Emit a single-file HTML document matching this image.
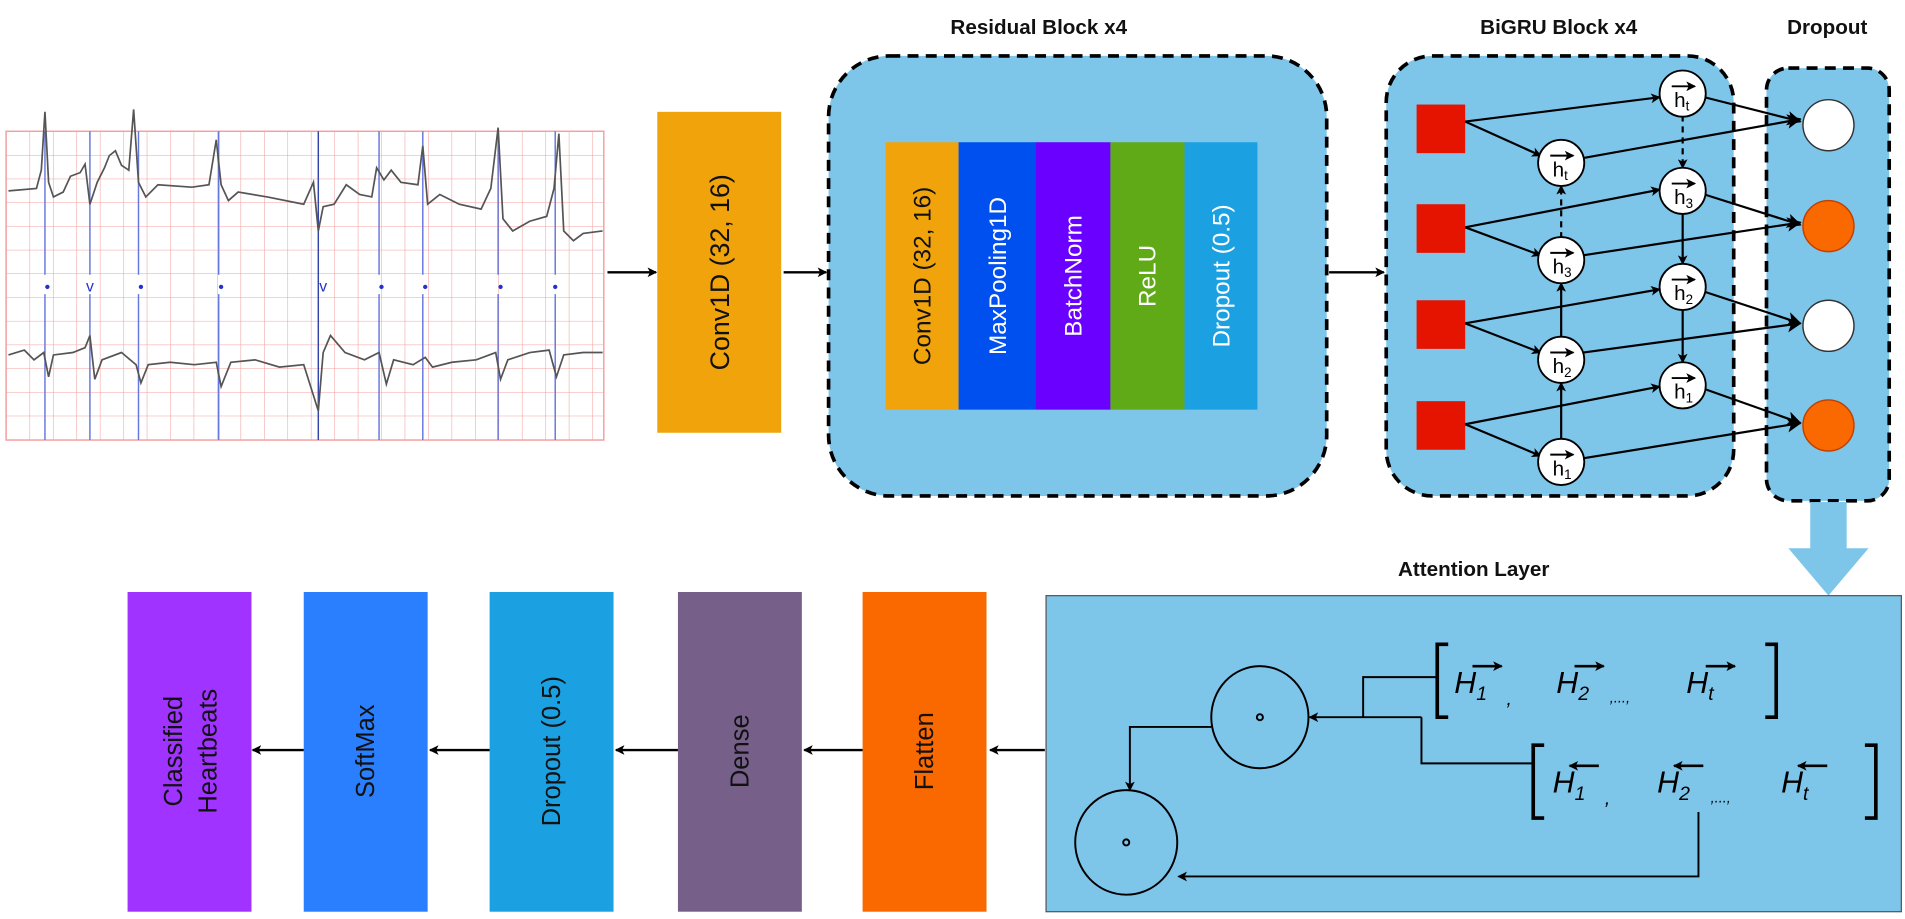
<!DOCTYPE html>
<html><head><meta charset="utf-8"><style>
html,body{margin:0;padding:0;background:#fff;}
svg{display:block;}
text{font-family:"Liberation Sans",sans-serif;}
</style></head><body>
<svg width="1905" height="919" viewBox="0 0 1568 756" preserveAspectRatio="none" xmlns="http://www.w3.org/2000/svg">
<defs>
<marker id="a" markerWidth="8" markerHeight="8" refX="7" refY="4" orient="auto" markerUnits="userSpaceOnUse"><path d="M0,0 L8,4 L0,8 L2,4 z" fill="#000"/></marker>
<marker id="b" markerWidth="12" markerHeight="12" refX="11" refY="6" orient="auto" markerUnits="userSpaceOnUse"><path d="M0,0 L12,6 L0,12 L3,6 z" fill="#000"/></marker>
<pattern id="g" width="19.3" height="19.5" patternUnits="userSpaceOnUse" x="5" y="108"><path d="M0,0 H19.3 M0,0 V19.5" stroke="#f2a0a0" stroke-width="0.9" fill="none"/></pattern>
</defs>
<!-- ECG -->
<rect x="5" y="108" width="492" height="254" fill="url(#g)" stroke="#f2a0a0" stroke-width="1.2"/>
<g stroke="#6677dd" stroke-width="1.2">
<line x1="37" y1="108" x2="37" y2="226"/><line x1="37" y1="242" x2="37" y2="362"/>
<line x1="74" y1="108" x2="74" y2="226"/><line x1="74" y1="242" x2="74" y2="362"/>
<line x1="114" y1="108" x2="114" y2="226"/><line x1="114" y1="242" x2="114" y2="362"/>
<line x1="180" y1="108" x2="180" y2="226"/><line x1="180" y1="242" x2="180" y2="362"/>
<line x1="262" y1="108" x2="262" y2="362" stroke="#3344aa"/>
<line x1="312" y1="108" x2="312" y2="226"/><line x1="312" y1="242" x2="312" y2="362"/>
<line x1="348" y1="108" x2="348" y2="226"/><line x1="348" y1="242" x2="348" y2="362"/>
<line x1="410" y1="108" x2="410" y2="226"/><line x1="410" y1="242" x2="410" y2="362"/>
<line x1="457" y1="108" x2="457" y2="226"/><line x1="457" y1="242" x2="457" y2="362"/>
</g>
<g fill="#2233cc" font-size="13" font-family="Liberation Serif,serif">
<circle cx="39" cy="236" r="1.8"/><text x="74" y="240" text-anchor="middle">v</text><circle cx="116" cy="236" r="1.8"/><circle cx="182" cy="236" r="1.8"/><text x="266" y="240" text-anchor="middle">v</text><circle cx="314" cy="236" r="1.8"/><circle cx="350" cy="236" r="1.8"/><circle cx="412" cy="236" r="1.8"/><circle cx="457" cy="236" r="1.8"/>
</g>
<g fill="none" stroke="#555" stroke-width="1.4">
<path d="M7,157 L30,155 L34,140 L37,92 L40,150 L44,162 L52,158 L58,145 L66,142 L70,135 L74,168 L80,150 L86,138 L90,128 L95,124 L100,136 L106,140 L110,90 L114,150 L120,162 L130,152 L158,154 L172,152 L178,115 L182,152 L188,165 L196,158 L220,162 L250,168 L258,150 L262,190 L266,170 L275,168 L285,152 L296,160 L306,162 L310,138 L316,148 L322,140 L330,150 L344,152 L348,120 L352,168 L362,160 L378,168 L396,172 L404,155 L410,105 L414,180 L422,190 L436,182 L450,178 L456,155 L460,110 L464,190 L472,198 L480,192 L496,190"/>
<path d="M7,292 L20,288 L28,296 L36,290 L40,310 L44,292 L60,290 L70,286 L74,276 L78,312 L84,296 L100,290 L112,300 L116,315 L122,300 L140,298 L160,300 L178,298 L182,318 L190,298 L210,296 L230,302 L250,300 L262,338 L266,290 L272,276 L284,290 L300,296 L312,290 L318,316 L324,296 L340,300 L350,294 L356,302 L372,298 L392,296 L408,290 L412,312 L418,296 L436,290 L452,288 L458,310 L464,292 L480,290 L496,290"/>
</g>
<!-- arrows top row -->
<g stroke="#000" stroke-width="2" fill="none">
<line x1="500" y1="224" x2="540" y2="224" marker-end="url(#a)"/>
<line x1="645" y1="224" x2="680" y2="224" marker-end="url(#a)"/>
<line x1="1094" y1="224" x2="1139" y2="224" marker-end="url(#a)"/>
</g>
<!-- Conv1D -->
<rect x="541" y="92" width="102" height="264" fill="#f0a30a"/>
<text transform="translate(600,224) rotate(-90)" text-anchor="middle" font-size="22" fill="#111">Conv1D (32, 16)</text>
<!-- Residual block -->
<text x="855" y="28" text-anchor="middle" font-size="17" font-weight="bold" fill="#111">Residual Block x4</text>
<rect x="682" y="46" width="410" height="362" rx="50" fill="#7ec5ea" stroke="#000" stroke-width="3" stroke-dasharray="9,6"/>
<rect x="729" y="117" width="60" height="220" fill="#f0a30a"/>
<rect x="789" y="117" width="63" height="220" fill="#0050ef"/>
<rect x="852" y="117" width="62" height="220" fill="#6a00ff"/>
<rect x="914" y="117" width="61" height="220" fill="#60a917"/>
<rect x="975" y="117" width="60" height="220" fill="#1ba1e2"/>
<g font-size="20" text-anchor="middle">
<text transform="translate(766,227) rotate(-90)" fill="#111">Conv1D (32, 16)</text>
<text transform="translate(828,227) rotate(-90)" fill="#fff">MaxPooling1D</text>
<text transform="translate(890,227) rotate(-90)" fill="#fff">BatchNorm</text>
<text transform="translate(951,227) rotate(-90)" fill="#fff">ReLU</text>
<text transform="translate(1012,227) rotate(-90)" fill="#fff">Dropout (0.5)</text>
</g>
<!-- BiGRU -->
<text x="1283" y="28" text-anchor="middle" font-size="17" font-weight="bold" fill="#111">BiGRU Block x4</text>
<text x="1504" y="28" text-anchor="middle" font-size="17" font-weight="bold" fill="#111">Dropout</text>
<rect x="1141" y="46" width="286" height="362" rx="38" fill="#7ec5ea" stroke="#000" stroke-width="3" stroke-dasharray="9,6"/>
<rect x="1454" y="56" width="101" height="356" rx="18" fill="#7ec5ea" stroke="#000" stroke-width="3" stroke-dasharray="9,6"/>
<g fill="#e51400">
<rect x="1166" y="86" width="40" height="40"/><rect x="1166" y="168" width="40" height="40"/><rect x="1166" y="247" width="40" height="40"/><rect x="1166" y="330" width="40" height="40"/>
</g>
<g stroke="#000" stroke-width="1.8" fill="none">
<line x1="1206" y1="100" x2="1366" y2="80" marker-end="url(#a)"/>
<line x1="1206" y1="100" x2="1268" y2="128" marker-end="url(#a)"/>
<line x1="1206" y1="187" x2="1366" y2="156" marker-end="url(#a)"/>
<line x1="1206" y1="187" x2="1268" y2="210" marker-end="url(#a)"/>
<line x1="1206" y1="266" x2="1366" y2="238" marker-end="url(#a)"/>
<line x1="1206" y1="266" x2="1268" y2="290" marker-end="url(#a)"/>
<line x1="1206" y1="349" x2="1366" y2="318" marker-end="url(#a)"/>
<line x1="1206" y1="349" x2="1268" y2="375" marker-end="url(#a)"/>
<line x1="1285" y1="362" x2="1285" y2="315" marker-end="url(#a)"/>
<line x1="1285" y1="278" x2="1285" y2="233" marker-end="url(#a)"/>
<line x1="1285" y1="196" x2="1285" y2="153" marker-end="url(#a)" stroke-dasharray="5,4"/>
<line x1="1385" y1="95" x2="1385" y2="138" marker-end="url(#a)" stroke-dasharray="5,4"/>
<line x1="1385" y1="175" x2="1385" y2="217" marker-end="url(#a)"/>
<line x1="1385" y1="254" x2="1385" y2="298" marker-end="url(#a)"/>
<line x1="1303" y1="130" x2="1482" y2="98" marker-end="url(#b)"/>
<line x1="1403" y1="80" x2="1482" y2="100" marker-end="url(#b)"/>
<line x1="1303" y1="210" x2="1482" y2="183" marker-end="url(#b)"/>
<line x1="1403" y1="160" x2="1482" y2="185" marker-end="url(#b)"/>
<line x1="1303" y1="290" x2="1482" y2="266" marker-end="url(#b)"/>
<line x1="1403" y1="240" x2="1482" y2="266" marker-end="url(#b)"/>
<line x1="1303" y1="377" x2="1482" y2="348" marker-end="url(#b)"/>
<line x1="1403" y1="320" x2="1482" y2="348" marker-end="url(#b)"/>
</g>
<g stroke="#000" stroke-width="1.5" fill="#fff">
<circle cx="1285" cy="134" r="19"/><circle cx="1285" cy="214" r="19"/><circle cx="1285" cy="296" r="19"/><circle cx="1285" cy="380" r="19"/>
<circle cx="1385" cy="77" r="19"/><circle cx="1385" cy="157" r="19"/><circle cx="1385" cy="236" r="19"/><circle cx="1385" cy="317" r="19"/>
</g>
<g font-size="17" fill="#000">
<g id="hl">
<text x="1278" y="145">h<tspan font-size="11" dy="3">t</tspan></text>
<text x="1278" y="225">h<tspan font-size="11" dy="3">3</tspan></text>
<text x="1278" y="307">h<tspan font-size="11" dy="3">2</tspan></text>
<text x="1278" y="391">h<tspan font-size="11" dy="3">1</tspan></text>
<text x="1378" y="88">h<tspan font-size="11" dy="3">t</tspan></text>
<text x="1378" y="168">h<tspan font-size="11" dy="3">3</tspan></text>
<text x="1378" y="247">h<tspan font-size="11" dy="3">2</tspan></text>
<text x="1378" y="328">h<tspan font-size="11" dy="3">1</tspan></text>
</g>
</g>
<g stroke="#000" stroke-width="1.6" fill="none">
<line x1="1276" y1="128" x2="1295" y2="128" marker-end="url(#a)"/><line x1="1276" y1="208" x2="1295" y2="208" marker-end="url(#a)"/><line x1="1276" y1="290" x2="1295" y2="290" marker-end="url(#a)"/><line x1="1276" y1="374" x2="1295" y2="374" marker-end="url(#a)"/>
<line x1="1376" y1="71" x2="1395" y2="71" marker-end="url(#a)"/><line x1="1376" y1="151" x2="1395" y2="151" marker-end="url(#a)"/><line x1="1376" y1="230" x2="1395" y2="230" marker-end="url(#a)"/><line x1="1376" y1="311" x2="1395" y2="311" marker-end="url(#a)"/>
</g>
<g stroke="#333" stroke-width="1.2">
<circle cx="1505" cy="103" r="21" fill="#fff"/><circle cx="1505" cy="186" r="21" fill="#fa6800" stroke="#c04000"/><circle cx="1505" cy="268" r="21" fill="#fff"/><circle cx="1505" cy="350" r="21" fill="#fa6800" stroke="#c04000"/>
</g>
<!-- big down arrow -->
<rect x="1490" y="413" width="30" height="40" fill="#7ec5ea"/>
<polygon points="1472,451 1538,451 1505,490" fill="#7ec5ea"/>
<!-- Attention -->
<text x="1213" y="474" text-anchor="middle" font-size="17" font-weight="bold" fill="#111">Attention Layer</text>
<rect x="861" y="490" width="704" height="260" fill="#7ec5ea" stroke="#555" stroke-width="1"/>
<g stroke="#000" stroke-width="3" fill="none">
<path d="M1192,530 H1183 V590 H1192"/><path d="M1453,530 H1462 V590 H1453"/>
<path d="M1271,613 H1262 V673 H1271"/><path d="M1535,613 H1544 V673 H1535"/>
</g>
<g font-size="25" font-style="italic" fill="#000">
<text x="1197" y="570">H<tspan font-size="16" dy="6">1</tspan></text><text x="1240" y="580" font-size="16">,</text>
<text x="1281" y="570">H<tspan font-size="16" dy="6">2</tspan></text><text x="1325" y="578" font-size="12">,...,</text>
<text x="1388" y="570">H<tspan font-size="16" dy="6">t</tspan></text>
<text x="1278" y="652">H<tspan font-size="16" dy="6">1</tspan></text><text x="1321" y="662" font-size="16">,</text>
<text x="1364" y="652">H<tspan font-size="16" dy="6">2</tspan></text><text x="1408" y="660" font-size="12">,...,</text>
<text x="1466" y="652">H<tspan font-size="16" dy="6">t</tspan></text>
</g>
<g stroke="#000" stroke-width="2.2" fill="none">
<line x1="1212" y1="548" x2="1236" y2="548" marker-end="url(#a)"/><line x1="1296" y1="548" x2="1320" y2="548" marker-end="url(#a)"/><line x1="1404" y1="548" x2="1428" y2="548" marker-end="url(#a)"/>
<line x1="1316" y1="630" x2="1292" y2="630" marker-end="url(#a)"/><line x1="1402" y1="630" x2="1378" y2="630" marker-end="url(#a)"/><line x1="1504" y1="630" x2="1480" y2="630" marker-end="url(#a)"/>
</g>
<g stroke="#000" stroke-width="1.6" fill="none">
<ellipse cx="1037" cy="590" rx="40" ry="42"/>
<ellipse cx="927" cy="693" rx="42" ry="43"/>
<circle cx="1037" cy="590" r="2.5"/><circle cx="927" cy="693" r="2.5"/>
<path d="M1183,557 H1122 V590"/>
<line x1="1170" y1="590" x2="1078" y2="590" marker-end="url(#a)"/>
<path d="M1170,590 V628 H1262"/>
<path d="M997,598 H930 V650" marker-end="url(#a)"/>
<path d="M1398,668 V721 H970" marker-end="url(#a)"/>
</g>
<!-- bottom boxes -->
<rect x="105" y="487" width="102" height="263" fill="#a033ff"/>
<rect x="250" y="487" width="102" height="263" fill="#2a7fff"/>
<rect x="403" y="487" width="102" height="263" fill="#1ba1e2"/>
<rect x="558" y="487" width="102" height="263" fill="#76608a"/>
<rect x="710" y="487" width="102" height="263" fill="#fa6800"/>
<g font-size="21" text-anchor="middle" fill="#111">
<text transform="translate(150,618) rotate(-90)">Classified</text>
<text transform="translate(178,618) rotate(-90)">Heartbeats</text>
<text transform="translate(308,618) rotate(-90)">SoftMax</text>
<text transform="translate(461,618) rotate(-90)">Dropout (0.5)</text>
<text transform="translate(616,618) rotate(-90)">Dense</text>
<text transform="translate(768,618) rotate(-90)">Flatten</text>
</g>
<g stroke="#000" stroke-width="2" fill="none">
<line x1="860" y1="617" x2="815" y2="617" marker-end="url(#a)"/>
<line x1="710" y1="617" x2="662" y2="617" marker-end="url(#a)"/>
<line x1="558" y1="617" x2="507" y2="617" marker-end="url(#a)"/>
<line x1="403" y1="617" x2="354" y2="617" marker-end="url(#a)"/>
<line x1="250" y1="617" x2="208" y2="617" marker-end="url(#a)"/>
</g>
</svg>
</body></html>
